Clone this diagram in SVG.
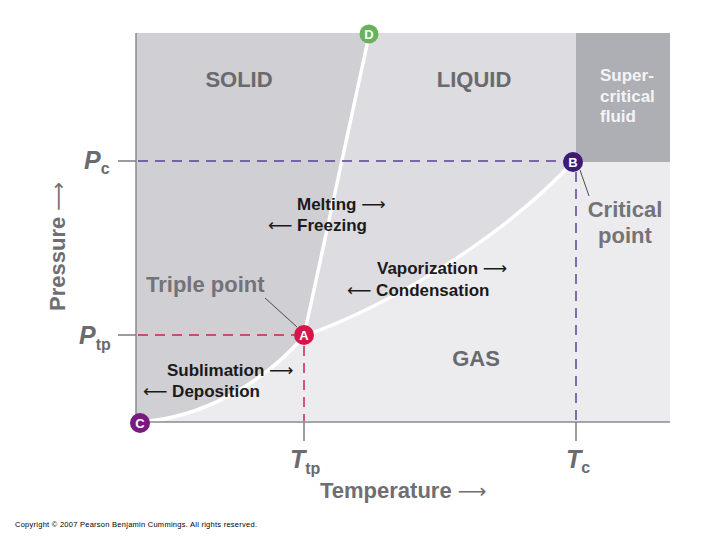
<svg xmlns="http://www.w3.org/2000/svg" width="720" height="540" viewBox="0 0 720 540">
<style>
.region{font-family:"Liberation Sans",Arial,sans-serif;font-weight:bold;fill:#69696e;font-size:22px;text-anchor:middle}
.note{font-family:"Liberation Sans",Arial,sans-serif;font-weight:bold;fill:#737378;font-size:22px}
.proc{font-family:"Liberation Sans",Arial,sans-serif;font-weight:bold;fill:#1a1a1a;font-size:17px}
.arr{font-family:"DejaVu Sans","Liberation Sans",sans-serif;font-weight:normal}
.sym{font-family:"Liberation Sans",Arial,sans-serif;font-weight:bold;font-style:italic;fill:#6a6a70;font-size:25px}
.sub{font-family:"Liberation Sans",Arial,sans-serif;font-weight:bold;font-style:normal;fill:#6a6a70;font-size:16px}
.axis{font-family:"Liberation Sans",Arial,sans-serif;font-weight:bold;fill:#6e6e73;font-size:22px}
.pt{font-family:"Liberation Sans",Arial,sans-serif;font-weight:bold;fill:#fff;font-size:13px;text-anchor:middle}
.tick{stroke:#7a7a80;stroke-width:1.5;fill:none}
.phase{stroke:#fff;stroke-width:3.5;fill:none;stroke-linecap:round}
</style>
<rect width="720" height="540" fill="#fff"/>
<g id="regions">
<rect id="gas-region" x="136" y="33" width="534" height="389" fill="#ececef"/>
<path id="liquid-region" d="M304,336 L370,33 L576,33 L576,162 L573,162 C500,240 390,305 304,336 Z" fill="#dcdce1"/>
<path id="solid-region" d="M136,33 L370,33 L304,336 C262,385 200,418 140,422 L136,422 Z" fill="#cfcfd4"/>
<rect id="supercritical-region" x="576" y="33" width="94" height="129" fill="#aeaeb5"/>
</g>
<g id="connectors">
<path id="melting-line" class="phase" d="M368,40 L304,336"/>
<path id="vaporization-curve" class="phase" d="M304,336 C390,305 500,240 573,162"/>
<path id="sublimation-curve" class="phase" d="M140,422 C200,418 262,385 304,336"/>
<line x1="136" y1="33" x2="136" y2="422" stroke="#8a8a90" stroke-width="1.5"/>
<line x1="136" y1="422" x2="670" y2="422" stroke="#8a8a90" stroke-width="1.5"/>
<line class="tick" x1="118" y1="161" x2="136" y2="161"/>
<line class="tick" x1="118" y1="335" x2="136" y2="335"/>
<line class="tick" x1="304" y1="422" x2="304" y2="441"/>
<line class="tick" x1="576" y1="422" x2="576" y2="441"/>
<line x1="138" y1="161" x2="564" y2="161" stroke="#5a3f96" stroke-width="1.5" stroke-dasharray="10,7"/>
<line x1="576" y1="172" x2="576" y2="421" stroke="#5a3f96" stroke-width="1.5" stroke-dasharray="10,7"/>
<line x1="138" y1="335" x2="294" y2="335" stroke="#c8244a" stroke-width="1.5" stroke-dasharray="10,7"/>
<line x1="304" y1="346" x2="304" y2="421" stroke="#c8244a" stroke-width="1.5" stroke-dasharray="10,7"/>
<line x1="265" y1="298" x2="297" y2="327" stroke="#4a4a50" stroke-width="1"/>
<line x1="580" y1="170" x2="589" y2="196" stroke="#4a4a50" stroke-width="1"/>
</g>
<g id="point-D"><circle cx="369" cy="34" r="9.5" fill="#68b35a"/><text class="pt" x="369" y="38.5">D</text></g>
<g id="point-A"><circle cx="304" cy="335" r="10" fill="#d3174b"/><text class="pt" x="304" y="339.5">A</text></g>
<g id="point-B"><circle cx="573" cy="162" r="10" fill="#3c1a76"/><text class="pt" x="573" y="166.5">B</text></g>
<g id="point-C"><circle cx="140" cy="423" r="10" fill="#7a1a80"/><text class="pt" x="140" y="427.5">C</text></g>
<g id="labels">
<text class="region" x="239" y="87">SOLID</text>
<text class="region" x="474" y="87">LIQUID</text>
<text class="region" x="476" y="366">GAS</text>
<g font-family="Liberation Sans,Arial,sans-serif" font-weight="bold" font-size="17" fill="#f4f4f6">
<text x="600" y="81">Super-</text>
<text x="600" y="102">critical</text>
<text x="600" y="122">fluid</text>
</g>
<text class="note" x="625" y="217" text-anchor="middle">Critical</text>
<text class="note" x="625" y="243" text-anchor="middle">point</text>
<text class="note" x="146" y="292">Triple point</text>
<text class="proc" x="297" y="210">Melting <tspan class="arr">⟶</tspan></text>
<text class="proc" x="268" y="231"><tspan class="arr">⟵</tspan> Freezing</text>
<text class="proc" x="377" y="274">Vaporization <tspan class="arr">⟶</tspan></text>
<text class="proc" x="347" y="296"><tspan class="arr">⟵</tspan> Condensation</text>
<text class="proc" x="167" y="376">Sublimation <tspan class="arr">⟶</tspan></text>
<text class="proc" x="143" y="397"><tspan class="arr">⟵</tspan> Deposition</text>
<text class="sym" x="84" y="169">P<tspan class="sub" dy="5">c</tspan></text>
<text class="sym" x="79" y="344">P<tspan class="sub" dy="6">tp</tspan></text>
<text class="sym" x="290" y="468">T<tspan class="sub" dy="6">tp</tspan></text>
<text class="sym" x="566" y="468">T<tspan class="sub" dy="5">c</tspan></text>
<text class="axis" x="320" y="498">Temperature <tspan class="arr" font-size="20">⟶</tspan></text>
<text class="axis" transform="translate(65,311) rotate(-90)">Pressure <tspan class="arr" font-size="20">⟶</tspan></text>
<text x="15" y="527" font-family="Liberation Sans,Arial,sans-serif" font-size="7.5" fill="#000" textLength="242">Copyright © 2007 Pearson Benjamin Cummings. All rights reserved.</text>
</g>
</svg>
